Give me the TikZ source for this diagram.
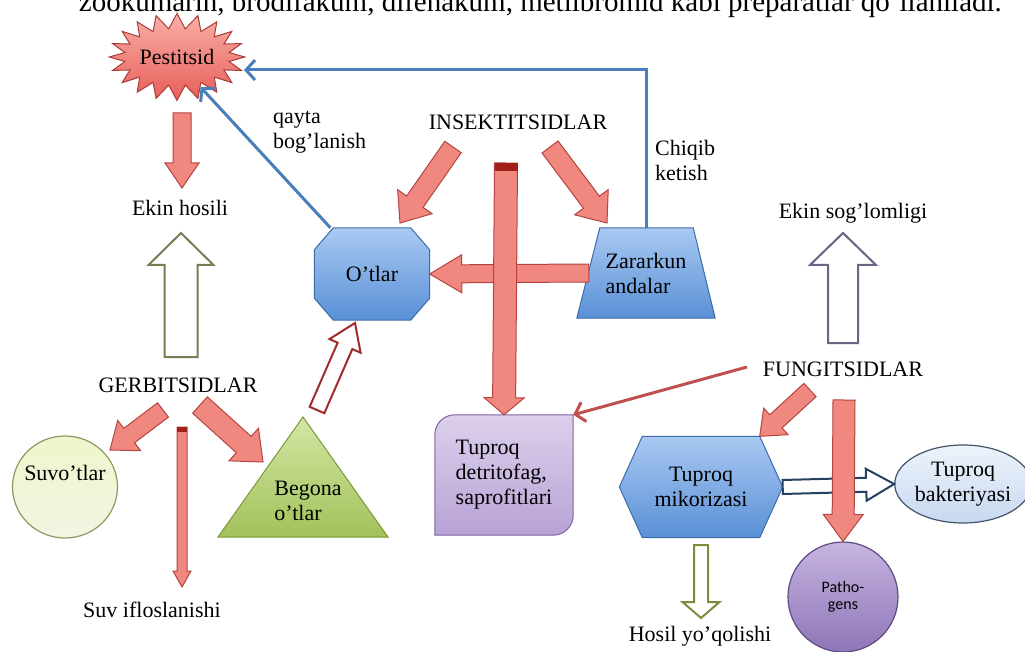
\documentclass[tikz,border=0pt]{standalone}
\usepackage{fontspec}
\setmainfont{Liberation Serif}
\newfontfamily\calibrifont{Carlito}
\usetikzlibrary{shapes.geometric,shapes.symbols,arrows.meta,calc,backgrounds}

\definecolor{bluetop}{HTML}{A9C9F2}
\definecolor{bluebot}{HTML}{5990D6}
\definecolor{blueedge}{HTML}{3C6CA8}
\definecolor{linkblue}{HTML}{4A7EBB}
\definecolor{redfill}{HTML}{F08880}
\definecolor{rededge}{HTML}{B5433F}
\definecolor{redcap}{HTML}{A31F1C}
\definecolor{thinred}{HTML}{C0504D}
\definecolor{bursttop}{HTML}{F9B0A9}
\definecolor{burstbot}{HTML}{E65E57}
\definecolor{burstedge}{HTML}{A83C37}
\definecolor{greentop}{HTML}{D3E6A4}
\definecolor{greenbot}{HTML}{A2C25A}
\definecolor{greenedge}{HTML}{7A983B}
\definecolor{algaefill}{HTML}{EDF6CC}
\definecolor{algaeedge}{HTML}{8C9A60}
\definecolor{lilactop}{HTML}{DCD0EC}
\definecolor{lilacbot}{HTML}{B8A2D5}
\definecolor{lilacedge}{HTML}{7E62A1}
\definecolor{violettop}{HTML}{C6B4E0}
\definecolor{violetbot}{HTML}{8F76B8}
\definecolor{violetedge}{HTML}{5F4A82}
\definecolor{skytop}{HTML}{EEF3FB}
\definecolor{skybot}{HTML}{C7D8F0}
\definecolor{skyedge}{HTML}{44546A}
\definecolor{olivegrey}{HTML}{7A7C56}
\definecolor{olivegreen}{HTML}{7E8B3A}
\definecolor{mauvegrey}{HTML}{6B6382}
\definecolor{darkred}{HTML}{A02B2B}
\definecolor{navy}{HTML}{254061}

\newcommand\lblfont{\fontsize{22}{25}\selectfont}

% block arrow: [style]{from}{to}{half shaft}{half head}{head length}
\newcommand\blockarrow[6][]{%
  \coordinate (bahead) at ($(#3)!#6!(#2)$);
  \draw[#1] ($(#2)!#4!90:(#3)$) -- ($(bahead)!#4!90:(#3)$) -- ($(bahead)!#5!90:(#3)$) -- (#3)
    -- ($(bahead)!#5!-90:(#3)$) -- ($(bahead)!#4!-90:(#3)$) -- ($(#2)!#4!-90:(#3)$) -- cycle;}

\begin{document}
\begin{tikzpicture}[x=1pt, y=-1pt,
  lbl/.style={font=\lblfont, inner sep=0pt, align=center},
  bluefill/.style={draw=blueedge, line width=1pt, top color=bluetop, bottom color=bluebot},
  redblock/.style={fill=redfill, draw=rededge, line width=1pt},
  hollow/.style={fill=white, line width=2pt, draw=#1},
  link/.style={draw=linkblue, line width=3pt, -{Straight Barb[length=9pt,width=20pt]}}
]
\useasboundingbox (0,0) rectangle (1025,652);
\clip (0,0) rectangle (1025,652);

% running text of the page above
\node[anchor=base east, font=\fontsize{29}{34}\selectfont, inner sep=0pt] (topline) at (1002,12)
  {zookumarin, brodifakum, difenakum, metilbromid kabi preparatlar qo'llaniladi.};

% nodes
\node[starburst, starburst points=20, starburst point height=15pt, random starburst=0,
      minimum width=128pt, minimum height=87pt, lbl, draw=burstedge, line width=1pt,
      top color=bursttop, bottom color=burstbot] (pest) at (177,57) {Pestitsid};
\node[lbl] (yield) at (180,208) {Ekin hosili};
\node[lbl] (herbi) at (178,385) {GERBITSIDLAR};
\node[ellipse, minimum width=105pt, minimum height=102pt, draw=algaeedge, line width=1.2pt,
      top color=algaefill, bottom color=algaefill!85!olivegreen!40,
      label={[lbl, yshift=14pt]center:Suvo'tlar}] (algae) at (65,487) {};
\node[lbl] (water) at (152,610) {Suv ifloslanishi};
\node[lbl, align=left] (begona) at (308,501) {Begona\\o'tlar};
\node[lbl, minimum width=115pt, minimum height=92pt] (otlar) at (372,274) {O'tlar};
\node[lbl] (insecti) at (518,122) {INSEKTITSIDLAR};
\node[lbl, minimum width=138pt, minimum height=90pt, align=left] (zarar) at (646,273)
  {Zararkun\\andalar};
\node[lbl, minimum width=138pt, minimum height=120pt, align=left] (detrit) at (504,475)
  {Tuproq\\detritofag,\\saprofitlari};
\node[lbl] (fungi) at (843,369) {FUNGITSIDLAR};
\node[lbl] (health) at (853,213) {Ekin sog'lomligi};
\node[lbl, minimum width=163pt, minimum height=101pt] (mikor) at (701,487) {Tuproq\\mikorizasi};
\node[ellipse, minimum width=120pt, minimum height=78pt, lbl, draw=skyedge, line width=1.2pt,
      top color=skytop, bottom color=skybot] (bakter) at (963,484) {Tuproq\\bakteriyasi};
\node[circle, minimum size=110pt, draw=violetedge, line width=1.2pt, top color=violettop,
      bottom color=violetbot, align=center, font=\calibrifont\fontsize{16}{17}\selectfont]
  (patho) at (843,597) {Patho-\\gens};
\node[lbl] (loss) at (700,636) {Hosil yo'qolishi};

% outlines of the text-only nodes
\begin{scope}[on background layer]
  \shade[top color=greentop, bottom color=greenbot, draw=greenedge, line width=1pt]
    (303,417) -- (388,537) -- (218,537) -- cycle;
  \shade[bluefill] ([xshift=19pt]otlar.north west) -- ([xshift=-19pt]otlar.north east)
    -- ([yshift=-22pt]otlar.north east) -- ([yshift=22pt]otlar.south east)
    -- ([xshift=-19pt]otlar.south east) -- ([xshift=19pt]otlar.south west)
    -- ([yshift=22pt]otlar.south west) -- ([yshift=-22pt]otlar.north west) -- cycle;
  \shade[bluefill] ([xshift=23pt]zarar.north west) -- ([xshift=-22pt]zarar.north east)
    -- (zarar.south east) -- (zarar.south west) -- cycle;
  \shade[bluefill] ([xshift=23pt]mikor.north west) -- ([xshift=-23pt]mikor.north east)
    -- (mikor.east) -- ([xshift=-23pt]mikor.south east) -- ([xshift=23pt]mikor.south west)
    -- (mikor.west) -- cycle;
  \shade[top color=lilactop, bottom color=lilacbot, draw=lilacedge, line width=1pt]
    (detrit.south west) -- ([yshift=-20pt]detrit.north west)
    arc[start angle=180, end angle=90, radius=20pt] -- (detrit.north east)
    -- ([yshift=20pt]detrit.south east) arc[start angle=0, end angle=-90, radius=20pt] -- cycle;
\end{scope}

% labels on the blue links
\node[lbl, anchor=west, align=left] (qayta) at (273,132) {qayta\\bog'lanish};
\node[lbl, anchor=west, align=left] (chiqib) at (655,160) {Chiqib\\ketish};

% blue links
\coordinate (pestin) at (244,70);
\draw[link] (zarar.north) |- (pestin);
\draw[link] (otlar.132) -- (pest.-52);

% block arrows
\coordinate (pestfoot) at (182,113);
\coordinate (yieldtip) at (182,188);
\blockarrow[redblock]{pestfoot}{yieldtip}{9pt}{17pt}{25pt}

\coordinate (herbup) at (181,357);
\coordinate (yieldfoot) at (181,233);
\blockarrow[hollow=olivegrey]{herbup}{yieldfoot}{16.5pt}{32.5pt}{32pt}

\coordinate (herbl) at (163,410);
\coordinate (algaetip) at (110,450);
\blockarrow[redblock]{herbl}{algaetip}{9pt}{19pt}{24pt}
\coordinate (herbr) at (200,405);
\coordinate (begonatip) at (263,462);
\blockarrow[redblock]{herbr}{begonatip}{11pt}{22pt}{26pt}
\coordinate (herbd) at (182,427);
\coordinate (watertip) at (182,587);
\blockarrow[redblock]{herbd}{watertip}{5pt}{9pt}{16pt}
\fill[redcap] (177,427) rectangle (187,432);

\coordinate (begonaup) at (317,410);
\coordinate (otlartip) at (355,323);
\blockarrow[hollow=darkred]{begonaup}{otlartip}{8pt}{17pt}{25pt}

\coordinate (insl) at (453,147);
\coordinate (otlarin) at (400,223);
\blockarrow[redblock]{insl}{otlarin}{10pt}{21pt}{26pt}
\coordinate (insr) at (550,147);
\coordinate (zararin) at (607,223);
\blockarrow[redblock]{insr}{zararin}{10pt}{21pt}{26pt}
\coordinate (zararout) at ([xshift=12pt]zarar.west);
\blockarrow[redblock]{zararout}{otlar.east}{9pt}{19pt}{32pt}
\coordinate (insd) at (506,163);
\blockarrow[redblock]{insd}{detrit.north}{11.5pt}{20pt}{17pt}
\fill[redcap] (494.5,163) rectangle (517.5,171);

\draw[thinred, line width=3pt, -{Straight Barb[length=9pt,width=20pt]}] (747,367) -- (detrit.north east);

\coordinate (fungl) at (810,390);
\blockarrow[redblock]{fungl}{[xshift=-23pt]mikor.north east}{9pt}{18pt}{22pt}

\blockarrow[hollow=navy]{mikor.east}{bakter.west}{7pt}{16pt}{28pt}

\coordinate (fungd) at (844,400);
\blockarrow[redblock]{fungd}{patho.north}{11pt}{20pt}{27pt}

\coordinate (fungup) at (843,343);
\coordinate (healthfoot) at (843,233);
\blockarrow[hollow=mauvegrey]{fungup}{healthfoot}{15pt}{33pt}{32pt}

\coordinate (mikordown) at (701,545);
\coordinate (losstip) at (701,618);
\blockarrow[hollow=olivegreen]{mikordown}{losstip}{7pt}{18.5pt}{16pt}
\end{tikzpicture}
\end{document}
